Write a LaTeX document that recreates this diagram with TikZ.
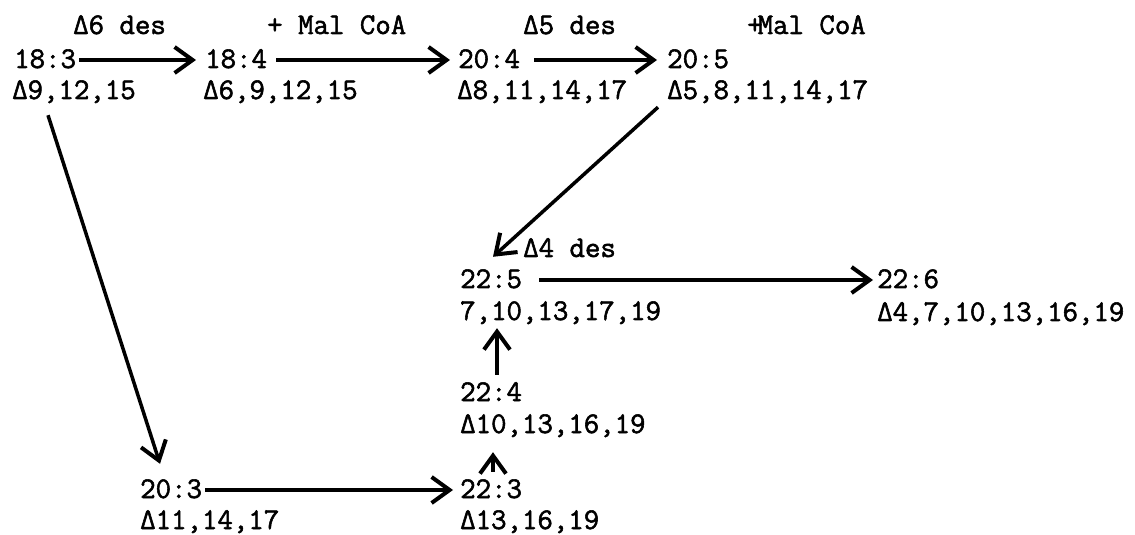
\documentclass[tikz,border=0pt]{standalone}
\usepackage{fontspec}
\setmonofont{Latin Modern Mono}[FakeBold=1.8]
\usetikzlibrary{arrows.meta}
\begin{document}
\begin{tikzpicture}[x=1bp,y=-1bp,
  lbl/.style={anchor=base west,inner sep=0pt,text height=18bp,text depth=2bp,font=\ttfamily\fontsize{30bp}{31bp}\selectfont},
  arr/.style={line width=3.5bp,-{Straight Barb[length=18bp,width=26bp,line width=4bp]}},
]
\useasboundingbox (0,0) rectangle (1135,535);
% labels
\node[lbl] (t1) at (73,34) {Δ6 des};
\node[lbl] (t2) at (267,34) {+ Mal CoA};
\node[lbl] (t3) at (523,34) {Δ5 des};
\node[lbl] (t4) at (747,34) {+\kern-5bp Mal CoA};
\node[lbl] (t5) at (523,257) {Δ4 des};
% compounds
\node[lbl] (a) at (14,68) {18:3};
\node[lbl] (ad) at (12,99) {Δ9,12,15};
\node[lbl] (b) at (205,68) {18:4};
\node[lbl] (bd) at (203,99) {Δ6,9,12,15};
\node[lbl] (c) at (458,68) {20:4};
\node[lbl] (cd) at (457,99) {Δ8,11,14,17};
\node[lbl] (d) at (667,68) {20:5};
\node[lbl] (dd) at (667,99) {Δ5,8,11,14,17};
\node[lbl] (e) at (460,288) {22:5};
\node[lbl] (ed) at (460,320) {7,10,13,17,19};
\node[lbl] (f) at (877,288) {22:6};
\node[lbl] (fd) at (877,321) {Δ4,7,10,13,16,19};
\node[lbl] (g) at (460,401) {22:4};
\node[lbl] (gd) at (460,433) {Δ10,13,16,19};
\node[lbl] (h) at (460,498) {22:3};
\node[lbl] (hd) at (460,529) {Δ13,16,19};
\node[lbl] (k) at (140,498) {20:3};
\node[lbl] (kd) at (140,529) {Δ11,14,17};
% arrows
\draw[arr,shorten <=3bp,shorten >=9bp] (a.east) -- (b.west);
\draw[arr,shorten <=9bp,shorten >=8bp] (b.east) -- (c.west);
\draw[arr,shorten <=14bp,shorten >=10bp] (c.east) -- (d.west);
\draw[arr] ([xshift=36bp,yshift=-14bp]ad.south west) -- ([xshift=20bp,yshift=16bp]k.north west);
\draw[arr] ([xshift=-9bp,yshift=-6bp]dd.south west) -- ([xshift=33bp,yshift=13bp]e.north west);
\draw[arr,shorten <=17bp,shorten >=4bp] (e.east) -- (f.west);
\draw[arr,shorten <=3bp,shorten >=7bp] (k.east) -- (h.west);
\draw[arr] ([xshift=33bp,yshift=8bp]h.north west) -- ([xshift=33bp,yshift=-17bp]gd.south west);
\draw[arr] ([xshift=37bp,yshift=8bp]g.north west) -- ([xshift=37bp,yshift=-6bp]ed.south west);
\end{tikzpicture}
\end{document}
